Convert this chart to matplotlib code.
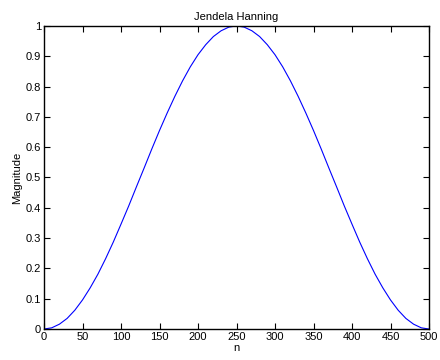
import matplotlib
matplotlib.use("Agg")
import matplotlib.pyplot as plt

n = [0, 10, 20, 30, 40, 50, 60, 70, 80, 90, 100, 110, 120, 130, 140, 150, 160, 170, 180, 190, 200,
     210, 220, 230, 240, 250, 260, 270, 280, 290, 300, 310, 320, 330, 340, 350, 360, 370, 380, 390,
     400, 410, 420, 430, 440, 450, 460, 470, 480, 490, 500]
magnitude = [0.000, 0.004, 0.016, 0.035, 0.062, 0.096, 0.136, 0.181, 0.232, 0.287, 0.346,
             0.406, 0.469, 0.531, 0.594, 0.655, 0.713, 0.768, 0.819, 0.865, 0.905,
             0.938, 0.965, 0.984, 0.996, 1.000, 0.996, 0.984, 0.965, 0.938, 0.905,
             0.865, 0.819, 0.768, 0.713, 0.655, 0.594, 0.531, 0.469, 0.406, 0.346,
             0.287, 0.232, 0.181, 0.136, 0.096, 0.062, 0.035, 0.016, 0.004, 0.000]
xticks = [0, 50, 100, 150, 200, 250, 300, 350, 400, 450, 500]
yticks = [0, 0.1, 0.2, 0.3, 0.4, 0.5, 0.6, 0.7, 0.8, 0.9, 1]
ytick_labels = ["0", "0.1", "0.2", "0.3", "0.4", "0.5", "0.6", "0.7", "0.8", "0.9", "1"]

plt.rcParams['font.family'] = ['Liberation Sans', 'DejaVu Sans']
fig = plt.figure(figsize=(4.4, 3.6), dpi=100)
ax = fig.add_axes([0.1, 0.086, 0.875, 0.842])
ax.plot(n, magnitude, color='#0000ff', lw=0.8)
ax.set_xlim(0, 500)
ax.set_ylim(0, 1)
ax.set_xticks(xticks)
ax.set_yticks(yticks)
ax.set_yticklabels(ytick_labels)
ax.tick_params(direction='in', length=4, width=0.8, labelsize=8, top=True, right=True, pad=2)
for s in ax.spines.values():
    s.set_linewidth(1.0)
ax.set_title("Jendela Hanning", fontsize=8, pad=4)
ax.set_xlabel("n", fontsize=8, labelpad=1)
ax.set_ylabel("Magnitude", fontsize=8, labelpad=3)
fig.savefig("out.png", dpi=100)
